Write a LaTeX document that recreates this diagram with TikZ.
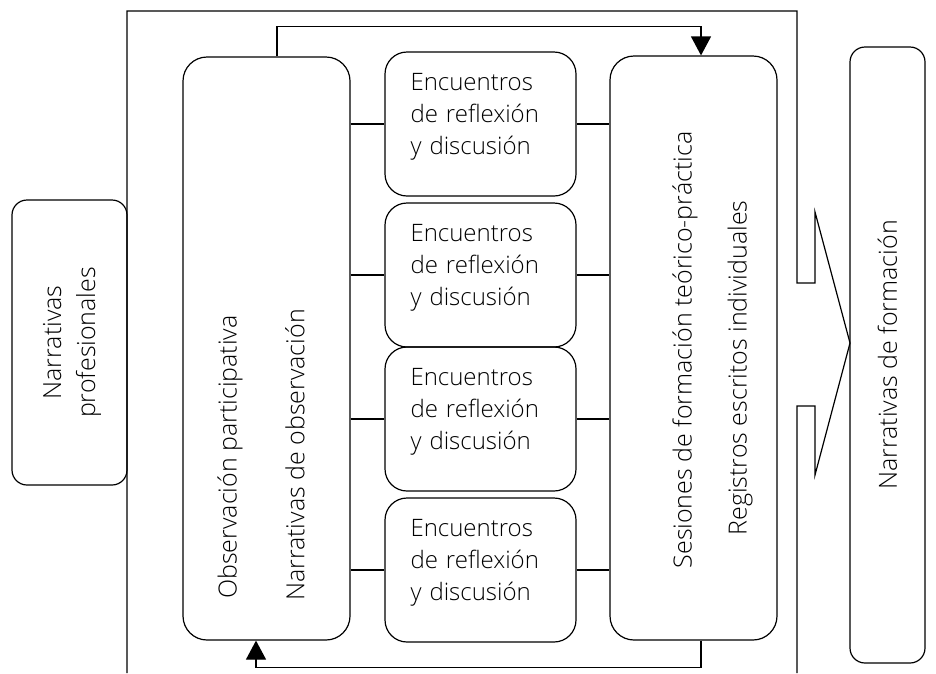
\documentclass[tikz,border=0pt]{standalone}
\usepackage{fontspec}
\IfFontExistsTF{Open Sans Light}{\setmainfont{Open Sans Light}}{\setmainfont{Open Sans}}
\usetikzlibrary{arrows.meta}

\begin{document}
\begin{tikzpicture}[
  x=1pt, y=-1pt, line width=1.2pt,
  panel/.style={draw, rounded corners=24pt, inner sep=0pt},
  sidebox/.style={draw, rounded corners=15pt, inner sep=0pt},
  meet/.style={draw, rounded corners=22pt, minimum width=191pt, minimum height=144pt,
    text width=140pt, inner xsep=25.5pt, text depth=84pt, align=left,
    font=\fontsize{24}{32}\selectfont},
  vtext/.style={rotate=90, align=center, font=\fontsize{25}{34}\selectfont},
  >={Triangle[width=20pt,length=19pt]}
]
\useasboundingbox (0,0) rectangle (936,673);

% frame with the block arrow on its right side
\draw (127,673) -- (127,11) -- (797,11) -- (797,283) -- (815,283) -- (815,212)
  -- (850,343) -- (815,475) -- (815,406) -- (797,406) -- (797,673);

\node[sidebox, minimum width=115pt, minimum height=285pt] (prof) at (69.5,342.5) {};
\node[vtext] (profT) at (72,342.5) {Narrativas\\profesionales};

\node[panel, minimum width=167pt, minimum height=583pt] (obs) at (266.5,348.5) {};
\node[vtext] (obsA) at (230,457) {Observación participativa};
\node[vtext] (obsB) at (295,455) {Narrativas de observación};

\node[meet] (mid1) at (480.5,124) {Encuentros\\de reflexión\\y discusión};
\node[meet] (mid2) at (480.5,275) {Encuentros\\de reflexión\\y discusión};
\node[meet] (mid3) at (480.5,419) {Encuentros\\de reflexión\\y discusión};
\node[meet] (mid4) at (480.5,570) {Encuentros\\de reflexión\\y discusión};

\node[panel, minimum width=167pt, minimum height=584pt] (ses) at (693.5,348) {};
\node[vtext] (sesA) at (685,350) {Sesiones de formación teórico-práctica};
\node[vtext] (sesB) at (740,368) {Registros escritos individuales};

\node[sidebox, minimum width=75pt, minimum height=616pt] (form) at (887.5,355) {};
\node[vtext] (formT) at (form) {Narrativas de formación};

\foreach \m in {mid1,mid2,mid3,mid4} {
  \draw (obs.east |- \m.west) -- (\m.west);
  \draw (\m.east) -- (ses.west |- \m.east);
}

\draw[->] ([xshift=10.5pt]obs.north) -- ++(0,-30) -| ([xshift=7.5pt]ses.north);
\draw[->] ([xshift=7.5pt]ses.south) -- ++(0,27) -| ([xshift=-10.5pt]obs.south);
\end{tikzpicture}
\end{document}
